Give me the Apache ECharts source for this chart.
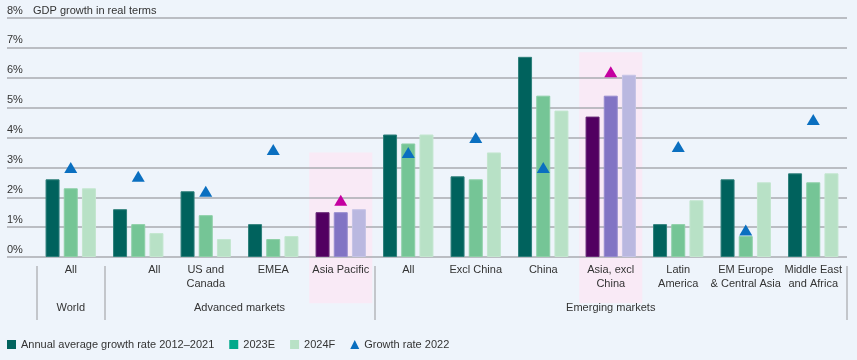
<!DOCTYPE html>
<html><head><meta charset="utf-8">
<script src="https://cdn.jsdelivr.net/npm/echarts@6/dist/echarts.min.js"></script>
<style>html,body{margin:0;padding:0;background:#eef4fb}#c{width:857px;height:360px}</style>
</head><body><div id="c"></div>
<script>
const categories = ['All','All','US and\nCanada','EMEA','Asia Pacific','All','Excl China','China','Asia, excl\nChina','Latin\nAmerica','EM Europe\n& Central Asia','Middle East\nand Africa'];
const groupLabels = ['World','Advanced markets','Emerging markets'];
const groupCenters = [0, 2.5, 8];
const groupBounds = [-0.5, 0.5, 4.5, 11.5];
const avg2012_2021 = [2.6,1.6,2.2,1.1,1.5,4.1,2.7,6.7,4.7,1.1,2.6,2.8];
const est2023 = [2.3,1.1,1.4,0.6,1.5,3.8,2.6,5.4,5.4,1.1,0.7,2.5];
const fc2024 = [2.3,0.8,0.6,0.7,1.6,4.1,3.5,4.9,6.1,1.9,2.5,2.8];
const growth2022 = [3.0,2.7,2.2,3.6,1.9,3.5,4.0,3.0,6.2,3.7,0.9,4.6];
const highlighted = [4, 8];
const highlightTop = [3.5, 6.85];
const highlightBottom = [-1.55, -1.55];
const seriesNames = ['Annual average growth rate 2012–2021','2023E','2024F','Growth rate 2022'];
const yMin = 0, yMax = 8, yStep = 1;

const FONT = "'Liberation Sans', Arial, sans-serif";
const TXT = '#333333';
const colors = ['#00625d','#75c596','#b8e1c6'];
const borders = ['#2e7f7a','#8ccfa6','#c3e6cf'];
const hiColors = ['#520061','#8274c4','#bab8e0'];
const hiBorders = ['#6a2a78','#968ace','#c6c4e6'];
const triColor = '#0a6fc0', triHi = '#c400a0';

function barData(arr, k){
  return arr.map((v,i)=> highlighted.includes(i) ? {value:v, itemStyle:{color:hiColors[k], borderColor:hiBorders[k]}} : v);
}
function barSeries(k, arr){
  return {name:seriesNames[k], type:'bar', xAxisIndex:1, yAxisIndex:1, barWidth:14, barGap:'30%',
    itemStyle:{color:colors[k], borderColor:borders[k], borderWidth:1}, data:barData(arr,k)};
}
const chart = echarts.init(document.getElementById('c'), null, {renderer:'canvas'});
chart.setOption({
  backgroundColor:'#eef4fb',
  animation:false,
  textStyle:{fontFamily:FONT},
  title:{text:'GDP growth in real terms', left:33, top:4, padding:0,
    textStyle:{fontSize:11, fontWeight:'normal', color:TXT, fontFamily:FONT, lineHeight:14}},
  legend:{left:7, top:339, padding:0, itemWidth:9, itemHeight:9, itemGap:15,
    textStyle:{fontSize:11, color:TXT, fontFamily:FONT},
    data:[
      {name:seriesNames[0], icon:'rect', itemStyle:{borderWidth:0}},
      {name:seriesNames[1], icon:'rect', itemStyle:{color:'#00a98b', borderWidth:0}},
      {name:seriesNames[2], icon:'rect', itemStyle:{borderWidth:0}},
      {name:seriesNames[3], icon:'triangle'}
    ]},
  grid:[
    {left:7, right:10, top:18, bottom:103},
    {left:37, right:10, top:18, bottom:103}
  ],
  xAxis:[
    {type:'category', gridIndex:0, data:categories, show:false},
    {type:'category', gridIndex:1, data:categories,
      axisLine:{show:false}, axisTick:{show:false},
      axisLabel:{interval:0, margin:6, fontSize:11, lineHeight:14, color:TXT, fontFamily:FONT,
        formatter:(v,i)=> i===1 ? '{s|'+v+'}' : v,
        rich:{s:{padding:[0,0,0,32], fontSize:11, color:TXT, fontFamily:FONT}}}},
    {type:'value', gridIndex:1, min:-0.5, max:11.5, position:'bottom', offset:9,
      axisLine:{show:false}, splitLine:{show:false},
      axisTick:{show:true, customValues:groupBounds, length:54, lineStyle:{color:'#b5b7bc', width:1.5}},
      axisLabel:{customValues:groupCenters, margin:36, fontSize:11, color:TXT, fontFamily:FONT,
        formatter:(v)=> groupLabels[groupCenters.indexOf(v)] || ''}}
  ],
  yAxis:[
    {type:'value', gridIndex:0, min:yMin, max:yMax, interval:yStep,
      axisLine:{show:false}, axisTick:{show:false},
      splitLine:{show:true, lineStyle:{color:'#a9abb0', width:1.5}},
      axisLabel:{inside:true, margin:0, verticalAlign:'bottom', padding:[0,0,2,0],
        formatter:'{value}%', fontSize:11, color:TXT, fontFamily:FONT}},
    {type:'value', gridIndex:1, min:yMin, max:yMax, interval:yStep, show:false}
  ],
  series:[
    {type:'custom', xAxisIndex:1, yAxisIndex:1, z:-1, clip:false, silent:true,
      data: highlighted.map((c,k)=>[c, highlightTop[k], highlightBottom[k]]),
      renderItem:(params, api)=>{
        const idx = api.value(0);
        const t = api.coord([idx, api.value(1)]);
        const b = api.coord([idx, api.value(2)]);
        const w = api.size([1,0])[0]*0.935;
        return {type:'rect', shape:{x:t[0]-w/2, y:t[1], width:w, height:b[1]-t[1]}, style:{fill:'#f9eaf6'}};
      }},
    barSeries(0, avg2012_2021),
    barSeries(1, est2023),
    barSeries(2, fc2024),
    {name:seriesNames[3], type:'scatter', xAxisIndex:1, yAxisIndex:1, symbol:'triangle', symbolSize:[13,11],
      itemStyle:{color:triColor, opacity:1}, z:5,
      data:growth2022.map((v,i)=> highlighted.includes(i) ? {value:v, itemStyle:{color:triHi, opacity:1}} : v)}
  ]
});
</script></body></html>
